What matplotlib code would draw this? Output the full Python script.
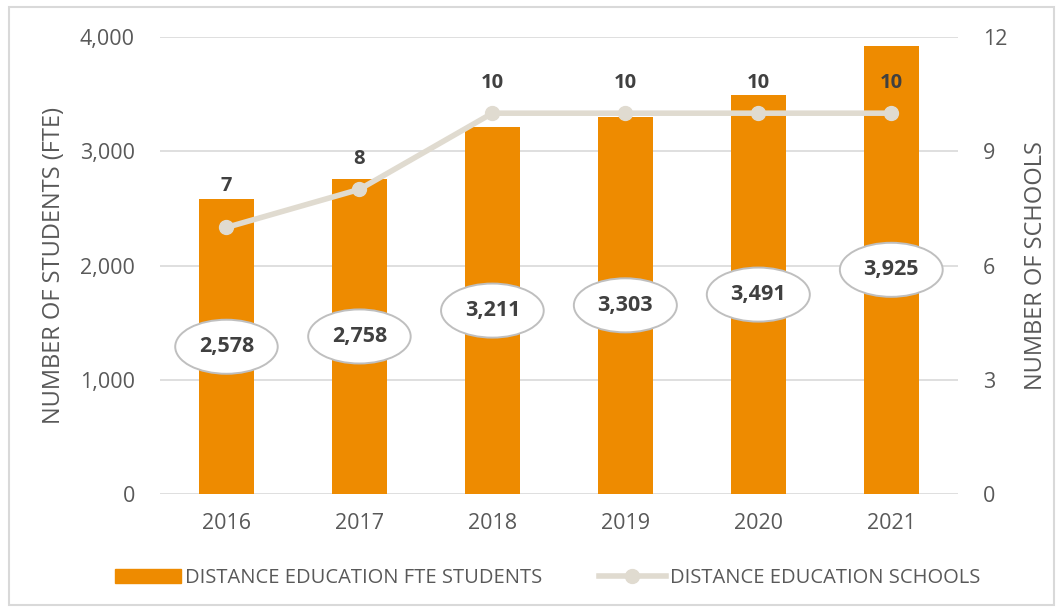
import matplotlib
matplotlib.use("Agg")
import matplotlib.pyplot as plt
from matplotlib.patches import Rectangle
from matplotlib.lines import Line2D
from matplotlib.patches import Patch

years = ["2016", "2017", "2018", "2019", "2020", "2021"]
students = [2578, 2758, 3211, 3303, 3491, 3925]
schools = [7, 8, 10, 10, 10, 10]

plt.rcParams['font.family'] = ['Open Sans', 'DejaVu Sans']
BAR = '#ee8b00'
LINE = '#e0dbd0'
TXT = '#595959'
GRID = '#d9d9d9'

fig = plt.figure(figsize=(10.63, 6.12), dpi=100)
ax = fig.add_axes([0.1505, 0.1928, 0.7505, 0.7467])
ax2 = ax.twinx()

x = list(range(len(years)))
ax.bar(x, students, width=0.41, color=BAR, zorder=2)
ax.set_ylim(0, 4000)
ax.set_xlim(-0.5, 5.5)
ax.set_yticks([0, 1000, 2000, 3000, 4000])
ax.set_yticklabels([f"{v:,}" for v in [0, 1000, 2000, 3000, 4000]])
ax.grid(axis='y', color=GRID, lw=1.2, zorder=0)
ax.set_axisbelow(True)
ax.set_xticks(x)
ax.set_xticklabels(years)

ax2.plot(x, schools, color=LINE, lw=4, marker='o', ms=10, zorder=3)
ax2.set_ylim(0, 12)
ax2.set_yticks([0, 3, 6, 9, 12])

for a in (ax, ax2):
    for s in a.spines.values():
        s.set_visible(False)
    a.tick_params(length=0, labelsize=15.5, colors=TXT, pad=18)
ax.tick_params(axis='x', pad=14)

ax.set_ylabel("NUMBER OF STUDENTS (FTE)", fontsize=17, color=TXT, labelpad=10)
ax2.set_ylabel("NUMBER OF SCHOOLS", fontsize=17, color=TXT, rotation=90, labelpad=12)

for xi, v in zip(x, students):
    ax.annotate(f"{v:,}", (xi, v / 2), ha='center', va='center', fontsize=15.5,
                fontweight='bold', color='#404040', zorder=5,
                bbox=dict(boxstyle='ellipse,pad=0.4', fc='white', ec='#bfbfbf', lw=1.4))

for xi, v in zip(x, schools):
    off = 30 if v == 7 else 22
    ax2.annotate(str(v), (xi, v), xytext=(0, off), textcoords='offset points',
                 ha='center', va='center', fontsize=14.5, fontweight='bold',
                 color='#404040', zorder=5)

handles = [Patch(color=BAR, label="DISTANCE EDUCATION FTE STUDENTS"),
           Line2D([0], [0], color=LINE, lw=4, marker='o', ms=10,
                  label="DISTANCE EDUCATION SCHOOLS")]
fig.legend(handles=handles, loc='center', bbox_to_anchor=(0.515, 0.055), ncol=2,
           frameon=False, fontsize=14.5, labelcolor=TXT, handlelength=3.3,
           handletextpad=0.2, columnspacing=2.8)

fig.add_artist(Rectangle((0.008, 0.011), 0.984, 0.977, transform=fig.transFigure,
                         fill=False, ec='#d9d9d9', lw=1.5))

fig.savefig("out.png", dpi=100)
